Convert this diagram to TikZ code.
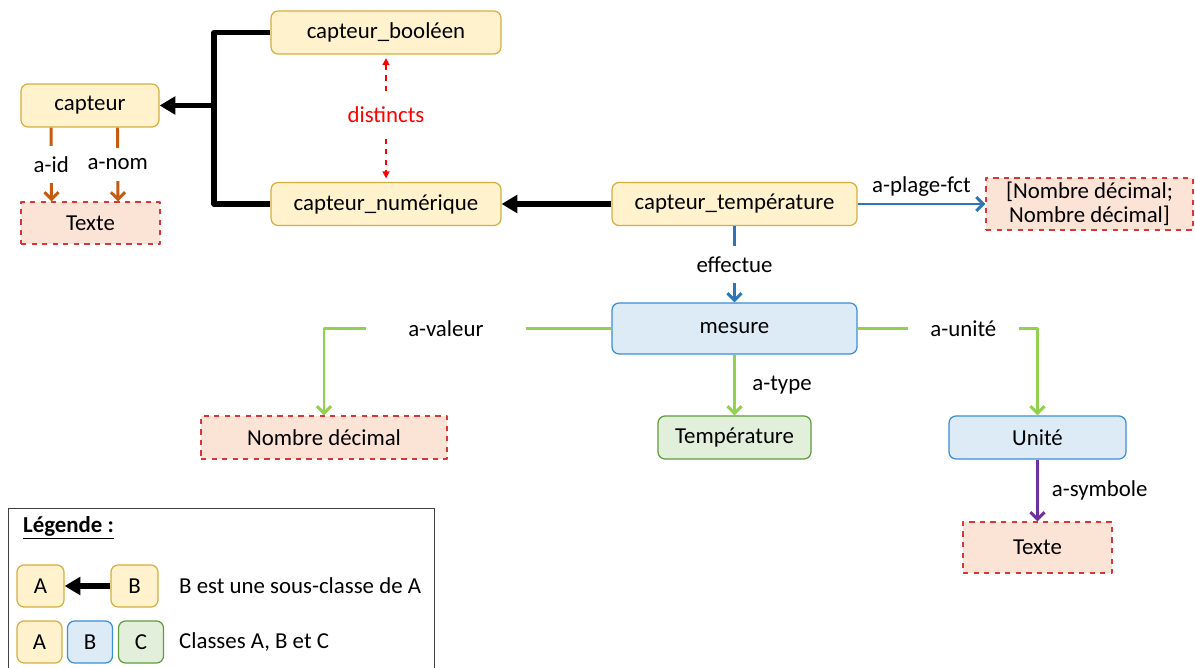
\documentclass[tikz,border=0pt]{standalone}
\usepackage{fontspec}
\setmainfont{Carlito}
\usetikzlibrary{arrows.meta}
\definecolor{jauneF}{HTML}{FFF2CC}
\definecolor{jauneB}{HTML}{D6AE3E}
\definecolor{bleuF}{HTML}{DDEBF7}
\definecolor{bleuB}{HTML}{3A8ED6}
\definecolor{vertF}{HTML}{E2EFDA}
\definecolor{vertB}{HTML}{5E9A3E}
\definecolor{rougeF}{HTML}{FBE4D6}
\definecolor{rougeB}{HTML}{D9363A}
\definecolor{orangeL}{HTML}{C55A11}
\definecolor{bleuL}{HTML}{2E75B6}
\definecolor{vertL}{HTML}{92D050}
\definecolor{violetL}{HTML}{7030A0}
\begin{document}
\begin{tikzpicture}[x=0.02cm, y=-0.02cm, font=\fontsize{13}{14}\selectfont, line join=round,
  classe/.style={draw=jauneB, fill=jauneF, rounded corners=4pt, line width=0.7pt, minimum height=0.86cm},
  classeB/.style={classe, draw=bleuB, fill=bleuF},
  classeC/.style={classe, draw=vertB, fill=vertF},
  litt/.style={draw=rougeB, fill=rougeF, dashed, line width=0.7pt, minimum height=0.86cm},
  herit/.style={line width=3pt, -{Triangle[length=9pt,width=10pt]}},
  rel/.style={line width=1.7pt, -{Straight Barb[length=4pt,width=8pt]}},
  lbl/.style={fill=white, inner xsep=2pt, inner ysep=6pt}]
\useasboundingbox (0,0) rectangle (1195,668);
% classes et litteraux
\node[classe, minimum width=2.76cm] (capteur) at (90,105.5) {capteur};
\node[classe, minimum width=4.6cm] (bool) at (386,32.5) {capteur\_booléen};
\node[classe, minimum width=4.6cm] (num) at (386,204) {capteur\_numérique};
\node[litt, minimum width=2.78cm, minimum height=0.84cm] (texte1) at (90.5,223) {Texte};
\node[classe, minimum width=4.9cm] (temp) at (734.5,204) {capteur\_température};
\node[litt, minimum width=4.14cm, minimum height=1.04cm, align=center, inner sep=0pt] (plage) at (1089.5,204) {[Nombre décimal;\\Nombre décimal]};
\node[classeB, minimum width=4.9cm, minimum height=1.02cm] (mesure) at (734.5,328.5) {mesure};
\node[litt, minimum width=4.92cm] (nd) at (324,437.5) {Nombre décimal};
\node[classeC, minimum width=3.06cm] (tempe) at (734.5,437.5) {Température};
\node[classeB, minimum width=3.54cm] (unite) at (1037.5,437.5) {Unité};
\node[litt, minimum width=2.98cm, minimum height=1.02cm] (texte2) at (1037.5,547.5) {Texte};
% heritage
\coordinate (j) at (214,105.5);
\draw[line width=3pt] (bool.west) -| (j) |- (num.west);
\draw[herit] (j) -- (capteur.east);
\draw[herit] (temp.west) -- (num.east);
\draw[red, dashed, line width=0.8pt, shorten <=2pt, shorten >=2pt, {Triangle[length=4pt,width=4pt]}-{Triangle[length=4pt,width=4pt]}]
  (bool.south) -- node[lbl, text=red, inner ysep=8pt, pos=0.47]{distincts} (num.north);
% relations
\draw[rel, orangeL] ([xshift=-0.78cm]capteur.south) -- node[lbl, text=black]{a-id} ([xshift=-0.78cm]texte1.north);
\draw[rel, orangeL] ([xshift=0.55cm]capteur.south) -- node[lbl, text=black]{a-nom} ([xshift=0.55cm]texte1.north);
\draw[rel, bleuL] (temp.east) -- node[above, text=black]{a-plage-fct} (plage.west);
\draw[rel, bleuL] (temp.south) -- node[lbl, text=black]{effectue} (mesure.north);
\draw[rel, vertL] (mesure.west) -| node[lbl, text=black, pos=0.288, inner xsep=24pt]{a-valeur} (nd.north);
\draw[rel, vertL] (mesure.east) -| node[lbl, text=black, pos=0.294, inner xsep=13pt]{a-unité} (unite.north);
\draw[rel, vertL] (mesure.south) -- node[right, xshift=6pt, text=black]{a-type} (tempe.north);
\draw[rel, violetL] (unite.south) -- node[right, xshift=4pt, text=black]{a-symbole} (texte2.north);
% legende
\node[draw=black!75, line width=0.8pt, minimum width=8.52cm, minimum height=3.4cm, anchor=north west] (leg) at (8,508) {};
\node[anchor=west] (legt) at (17,528) {\textbf{\underline{Légende :}}};
\node[classe, minimum width=0.94cm, minimum height=0.84cm] (la) at (40.5,586) {A};
\node[classe, minimum width=0.94cm, minimum height=0.84cm] (lb) at (134.5,586) {B};
\draw[herit] (lb.west) -- (la.east);
\node[anchor=west] (lt1) at (173,586) {B est une sous-classe de A};
\node[classe, minimum width=0.9cm, minimum height=0.84cm] (ma) at (39.5,642) {A};
\node[classeB, minimum width=0.9cm, minimum height=0.84cm] (mb) at (90,642) {B};
\node[classeC, minimum width=0.9cm, minimum height=0.84cm] (mc) at (141,642) {C};
\node[anchor=west] (lt2) at (173,642) {Classes A, B et C};
\end{tikzpicture}
\end{document}
